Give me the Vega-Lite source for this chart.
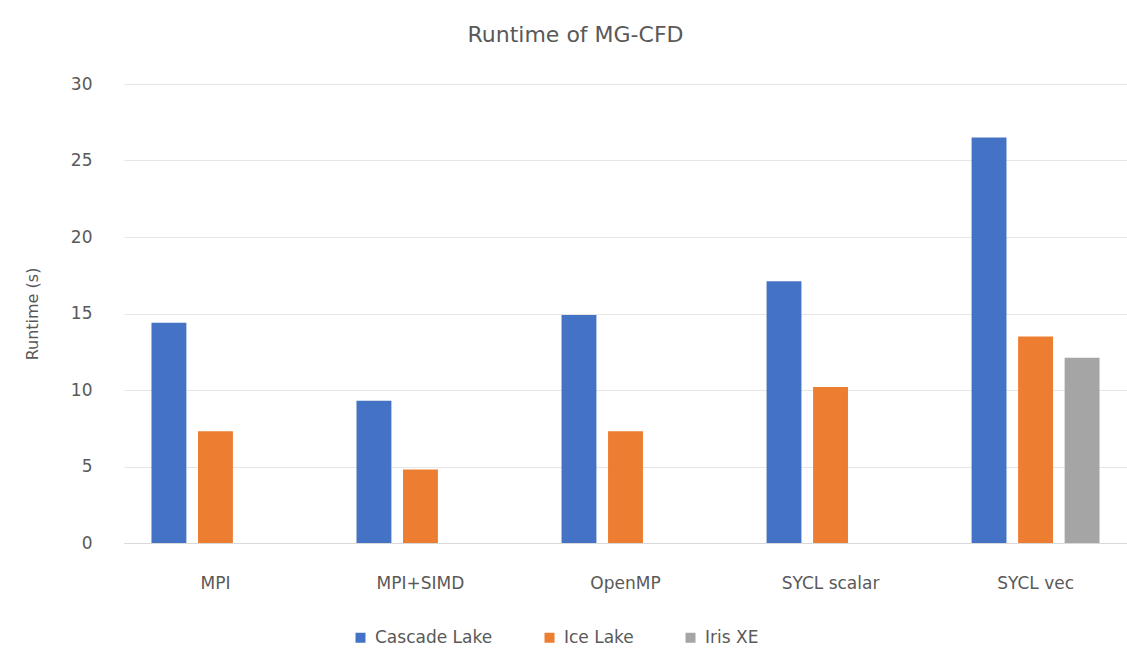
{
  "$schema": "https://vega.github.io/schema/vega-lite/v6.json",
  "autosize": "none",
  "width": 1003,
  "height": 459,
  "padding": {"left": 124, "top": 84, "right": 0, "bottom": 109},
  "background": "white",
  "title": {
    "text": "Runtime of MG-CFD",
    "anchor": "middle",
    "dx": -50,
    "offset": 28,
    "fontSize": 22,
    "font": "DejaVu Sans",
    "fontWeight": "normal",
    "color": "#595959"
  },
  "config": {
    "font": "DejaVu Sans",
    "view": {"stroke": null},
    "axis": {"labelColor": "#595959", "titleColor": "#595959", "labelFont": "DejaVu Sans", "titleFont": "DejaVu Sans"},
    "legend": {"labelColor": "#595959", "labelFont": "DejaVu Sans"}
  },
  "data": {
    "values": [
      {"version": "MPI", "platform": "Cascade Lake", "runtime": 14.4},
      {"version": "MPI", "platform": "Ice Lake", "runtime": 7.3},
      {"version": "MPI+SIMD", "platform": "Cascade Lake", "runtime": 9.3},
      {"version": "MPI+SIMD", "platform": "Ice Lake", "runtime": 4.8},
      {"version": "OpenMP", "platform": "Cascade Lake", "runtime": 14.9},
      {"version": "OpenMP", "platform": "Ice Lake", "runtime": 7.3},
      {"version": "SYCL scalar", "platform": "Cascade Lake", "runtime": 17.1},
      {"version": "SYCL scalar", "platform": "Ice Lake", "runtime": 10.2},
      {"version": "SYCL vec", "platform": "Cascade Lake", "runtime": 26.5},
      {"version": "SYCL vec", "platform": "Ice Lake", "runtime": 13.5},
      {"version": "SYCL vec", "platform": "Iris XE", "runtime": 12.1}
    ]
  },
  "mark": {"type": "bar"},
  "encoding": {
    "x": {
      "field": "version",
      "type": "nominal",
      "sort": ["MPI", "MPI+SIMD", "OpenMP", "SYCL scalar", "SYCL vec"],
      "scale": {"paddingInner": 0.376, "paddingOuter": 0.134},
      "axis": {
        "title": null,
        "labelAngle": 0,
        "labelFontSize": 17,
        "labelPadding": 32,
        "ticks": false,
        "domainColor": "#d9d9d9",
        "domainWidth": 1
      }
    },
    "xOffset": {
      "field": "platform",
      "type": "nominal",
      "scale": {"domain": ["Cascade Lake", "Ice Lake", "Iris XE"], "paddingInner": 0.25, "paddingOuter": 0}
    },
    "y": {
      "field": "runtime",
      "type": "quantitative",
      "scale": {"domain": [0, 30]},
      "axis": {
        "title": "Runtime (s)",
        "titleFontSize": 16,
        "titleFontWeight": "normal",
        "titlePadding": 30,
        "values": [0, 5, 10, 15, 20, 25, 30],
        "labelFontSize": 17,
        "labelPadding": 32,
        "ticks": false,
        "domain": false,
        "gridColor": "#e6e6e6",
        "gridWidth": 1
      }
    },
    "color": {
      "field": "platform",
      "type": "nominal",
      "scale": {"domain": ["Cascade Lake", "Ice Lake", "Iris XE"], "range": ["#4472C4", "#ED7D31", "#A5A5A5"]},
      "legend": {
        "title": null,
        "orient": "none",
        "direction": "horizontal",
        "legendX": 228,
        "legendY": 545,
        "symbolType": "square",
        "symbolSize": 100,
        "labelFontSize": 17,
        "columnPadding": 48,
        "labelOffset": 6
      }
    }
  }
}
